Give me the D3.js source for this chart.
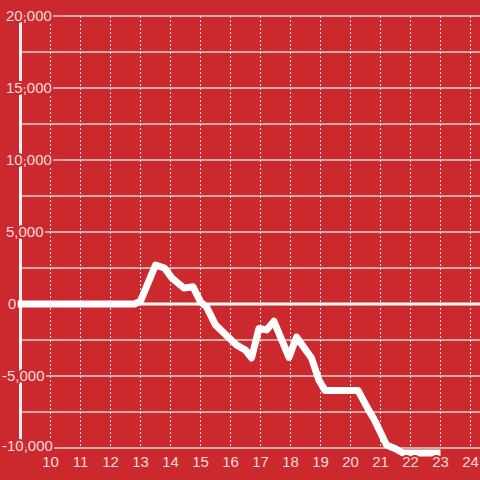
<!DOCTYPE html>
<html>
<head>
<meta charset="utf-8">
<script src="https://cdn.jsdelivr.net/npm/d3@7"></script>
<style>
  html, body { margin: 0; padding: 0; background: #cc292e; }
  svg { display: block; }
  .lbl { font-family: "Liberation Sans", Arial, sans-serif; font-size: 15px; fill: #f6dcdc;
         stroke: #cc292e; stroke-width: 4px; paint-order: stroke; stroke-linejoin: round; }
</style>
</head>
<body>
<svg width="480" height="480"></svg>
<script>
const width = 480;
const height = 480;

// hours of the day
const hours = [8.9, 12.8, 13.0, 13.5, 13.8, 14.05, 14.45, 14.75, 15.0, 15.2, 15.5, 15.85, 16.2, 16.5, 16.7,
  16.95, 17.2, 17.45, 17.95, 18.2, 18.7, 18.95, 19.15, 20.25, 20.6, 20.8, 21.2, 21.5, 21.75, 23.0];
const values = [0, 0, 200, 2700, 2500, 1800, 1100, 1200, 150, -200, -1450, -2150, -2850, -3200, -3750,
  -1700, -1800, -1200, -3700, -2300, -3750, -5300, -6000, -6000, -7350, -8050, -9800, -10050, -10350, -10350];

const xTicks = [10, 11, 12, 13, 14, 15, 16, 17, 18, 19, 20, 21, 22, 23, 24];
const yTicks = [20000, 15000, 10000, 5000, 0, -5000, -10000];
const yGrid = [20000, 17500, 15000, 12500, 10000, 7500, 5000, 2500, -2500, -5000, -7500, -10000];

const data = hours.map((h, i) => ({ h: h, v: values[i] }));

const x = d3.scaleLinear().domain([10, 24]).range([50.5, 470.5]);
const y = d3.scaleLinear().domain([-10000, 20000]).range([448, 16]);
const left = x(9);

const svg = d3.select("svg");

// horizontal grid
svg.append("g")
  .selectAll("line")
  .data(yGrid)
  .enter().append("line")
  .attr("x1", left).attr("x2", width)
  .attr("y1", d => y(d)).attr("y2", d => y(d))
  .attr("stroke", "#d2d2d2")
  .attr("stroke-width", 1.5);

// vertical dashed grid
svg.append("g")
  .selectAll("line")
  .data(xTicks)
  .enter().append("line")
  .attr("x1", d => x(d)).attr("x2", d => x(d))
  .attr("y1", y(20000)).attr("y2", y(-10000) - 2)
  .attr("stroke", "#e0e0e0")
  .attr("stroke-width", 1)
  .attr("stroke-dasharray", "2,2");

// y axis bar
svg.append("line")
  .attr("x1", left).attr("x2", left)
  .attr("y1", y(20000)).attr("y2", y(-10000))
  .attr("stroke", "#f2f2f2")
  .attr("stroke-width", 3);

// zero line
svg.append("line")
  .attr("x1", 17).attr("x2", width)
  .attr("y1", y(0)).attr("y2", y(0))
  .attr("stroke", "#ffffff")
  .attr("stroke-width", 3);

// data line
const line = d3.line()
  .x(d => x(d.h))
  .y(d => y(d.v));

svg.append("path")
  .datum(data)
  .attr("d", line)
  .attr("fill", "none")
  .attr("stroke", "#ffffff")
  .attr("stroke-width", 7)
  .attr("stroke-linejoin", "round")
  .attr("stroke-linecap", "butt");

// y labels
const fmt = d3.format(",");
svg.append("g")
  .selectAll("text")
  .data(yTicks)
  .enter().append("text")
  .attr("class", "lbl")
  .attr("x", d => d === 0 ? 8 : (d < 0 ? 2 : 6))
  .attr("y", d => y(d) - (d === -10000 ? 2 : 0))
  .attr("dy", "0.36em")
  .text(d => fmt(d).replace("−", "-"));

// x labels
svg.append("g")
  .selectAll("text")
  .data(xTicks)
  .enter().append("text")
  .attr("class", "lbl")
  .attr("x", d => x(d))
  .attr("y", 467)
  .attr("text-anchor", "middle")
  .text(d => d);
</script>
</body>
</html>
